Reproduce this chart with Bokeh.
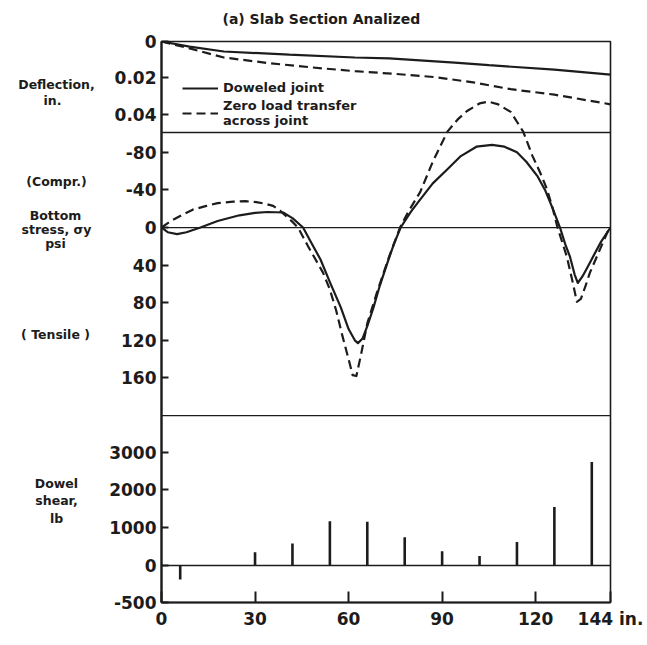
from bokeh.plotting import figure
from bokeh.layouts import row
from bokeh.models import (Range1d, FixedTicker, CustomJSTickFormatter, Span, Title,
                          Legend, LegendItem)
from bokeh.core.properties import value
from bokeh.embed import file_html
from bokeh.resources import INLINE

# ---------------- data ----------------
# Deflection, in. (positive downward)
defl_x_doweled = [0, 9, 20, 41, 62, 73, 94, 105, 126, 144]
defl_doweled = [0, 0.0028, 0.0055, 0.0072, 0.0088, 0.0093, 0.0116, 0.0130, 0.0155, 0.0182]
defl_x_zero = [0, 9, 20, 34, 48, 62, 75, 88, 100, 112, 126, 144]
defl_zero = [0, 0.0038, 0.0088, 0.0118, 0.0142, 0.0163, 0.0178, 0.0196, 0.0225, 0.0262, 0.0292, 0.0345]

# Bottom stress, psi (negative = compression)
stress_x_doweled = [0, 2, 5, 8, 12.5, 18, 25, 30, 34, 39, 42, 45.4, 48, 51, 54, 57.5, 60, 62, 63,
                    64.5, 66, 68, 70, 72.5, 74.5, 76.7, 80, 83, 87, 91.7, 96, 101, 106, 110, 114,
                    117, 120.5, 123, 125.6, 127.8, 129.5, 131, 132.5, 133.5, 135, 136.5, 138.4, 141, 144]
stress_doweled = [0, 5, 7, 5, 0, -7, -13, -15.5, -16.5, -16, -10, 0, 16, 34, 58, 85, 108, 120, 123,
                  118, 105, 85, 62, 37, 18, 0, -17, -30, -47, -62, -76, -86, -88, -86, -80,
                  -70, -55, -40, -19, 0, 18, 31, 50, 59, 52, 43, 31, 15, 0]
stress_x_zero = [0, 3, 7, 10, 14.4, 18, 23, 27, 30.4, 33, 35.8, 38, 40, 42, 43.8, 47, 51.8, 54, 56,
                 58, 60, 61.3, 62.5, 64, 66, 69, 73, 76.5, 79, 83, 87, 91.7, 95, 98, 102, 104.8,
                 108, 112, 116, 119, 121.5, 123.6, 125.5, 127, 130, 132, 133.2, 134.5, 136, 137.4,
                 140, 143, 144]
stress_zero = [0, -7, -14, -19, -23, -26, -27.5, -28, -27, -25.5, -23, -18, -12, -6, 0, 20, 48, 66, 88,
               115, 140, 157, 158, 135, 102, 70, 31, 0, -16, -38, -70, -102, -115, -124, -132, -134,
               -131, -123, -102, -76, -58, -41, -20, 0, 31, 60, 79, 76, 62, 48,
               28, 5, 0]

# Dowel shear, lb
dowel_x = [6, 30, 42, 54, 66, 78, 90, 102, 114, 126, 138]
dowel_shear = [-370, 350, 580, 1170, 1160, 750, 380, 250, 620, 1550, 2740]

# tick labels
x_ticks = [0, 30, 60, 90, 120, 144]
x_tick_labels = {144: "144 in."}
defl_ticks = [0, 0.02, 0.04]
defl_tick_labels = ["0", "0.02", "0.04"]
stress_ticks = [-80, -40, 0, 40, 80, 120, 160]
stress_tick_labels = ["-80", "-40", "0", "40", "80", "120", "160"]
shear_ticks = [0, 1000, 2000, 3000]
shear_tick_labels = ["0", "1000", "2000", "3000"]
shear_bottom_label = "-500"

# texts
title_text = "(a) Slab Section Analized"
side_texts = ["Deflection,", "in.", "(Compr.)", "Bottom", "stress, σy", "psi",
              "( Tensile )", "Dowel", "shear,", "lb"]

# panel limits
DEFL_PANEL_BOTTOM = 0.05
STRESS_PANEL_BOTTOM = 200

# ---------------- layout ----------------
W, H = 647, 645
SIDE_W = 104                                  # width of the side-caption strip
FL, FR, FT, FB = 161, 610, 41, 602            # frame edges in page px
X_MAX = 144
S_TOP, S_BOT = -197.9, 398.9                  # stress axis range (main)
D_TOP, D_BOT = 0.0, 0.3082                    # deflection range
H_TOP, H_BOT = 13880.0, -980.0                # shear range

# side caption positions (page px, centre of each line)
side_cx = [56, 52, 56, 55, 56, 55, 55, 56, 56, 56]
side_cy = [84, 100, 181, 215, 229, 243, 334, 483, 500, 518]

INK = "#1c1c1c"
FONT = "DejaVu Sans"

# ---- side caption strip (its frame is aligned with the main frame: page rows FT..FB) ----
s = figure(width=SIDE_W, height=H, x_range=Range1d(0, SIDE_W), y_range=Range1d(FB, FT),
           output_backend="svg", toolbar_location=None, x_axis_location=None,
           y_axis_location=None, min_border=0)
s.outline_line_color = None
s.xgrid.visible = False
s.ygrid.visible = False
s.text(x=side_cx, y=side_cy, text=side_texts, text_align="center", text_baseline="middle",
       text_font=value(FONT), text_font_style="bold", text_font_size=value("12.5px"),
       text_color=INK)

# ---- main plot ----
p = figure(width=W - SIDE_W, height=H, x_range=Range1d(0, X_MAX), y_range=Range1d(S_BOT, S_TOP),
           output_backend="svg", toolbar_location=None,
           min_border_left=FL - SIDE_W, min_border_right=W - FR, min_border_top=FT,
           min_border_bottom=H - FB)
p.extra_y_ranges = {"defl": Range1d(D_BOT, D_TOP), "shear": Range1d(H_BOT, H_TOP)}
p.xgrid.visible = False
p.ygrid.visible = False
p.outline_line_color = INK
p.outline_line_width = 1.6
p.background_fill_color = "white"
p.border_fill_color = "white"

# title sits in the top border; an empty spacer title lifts it away from the frame
p.title = None
p.add_layout(Title(text=" ", text_font_size="2px", standoff=11), "above")
p.add_layout(Title(text=title_text, align="left", offset=61, standoff=0, vertical_align="bottom",
                   text_font=FONT, text_font_style="bold", text_font_size="14px",
                   text_color=INK), "above")


def to_main(v, bot, top):
    frac = (v - bot) / (top - bot)
    return S_BOT + frac * (S_TOP - S_BOT)


eps = 0.05
pos, labs = [], []
for v, l in zip(defl_ticks, defl_tick_labels):
    t = to_main(v, D_BOT, D_TOP)
    pos.append(t + eps if v == D_TOP else t)
    labs.append(l)
for v, l in zip(stress_ticks, stress_tick_labels):
    pos.append(float(v))
    labs.append(l)
for v, l in zip(shear_ticks, shear_tick_labels):
    pos.append(to_main(v, H_BOT, H_TOP))
    labs.append(l)
pos.append(S_BOT - eps)
labs.append(shear_bottom_label)

yax = p.yaxis[0]
yax.ticker = FixedTicker(ticks=pos)
yax.formatter = CustomJSTickFormatter(args=dict(pos=pos, labs=labs), code="""
let best = 0, bd = Infinity;
for (let i = 0; i < pos.length; i++) {
  const d = Math.abs(pos[i] - tick);
  if (d < bd) { bd = d; best = i; }
}
return labs[best];
""")
xax = p.xaxis[0]
xax.ticker = FixedTicker(ticks=x_ticks)
xax.major_label_overrides = x_tick_labels

for ax, tin in ((yax, 7), (xax, 11)):
    ax.major_tick_in = tin
    ax.major_tick_out = 0
    ax.minor_tick_line_color = None
    ax.major_tick_line_width = 2
    ax.major_tick_line_color = INK
    ax.axis_line_width = 2.2
    ax.axis_line_color = INK
    ax.major_label_text_font = FONT
    ax.major_label_text_font_style = "bold"
    ax.major_label_text_font_size = "17px"
    ax.major_label_text_color = INK
yax.major_label_standoff = 5
xax.major_label_standoff = 6

# separators / baselines
for loc, rn, lw in ((DEFL_PANEL_BOTTOM, "defl", 1.3), (0, "default", 1.3),
                    (STRESS_PANEL_BOTTOM, "default", 1.3), (0, "shear", 1.6)):
    p.add_layout(Span(location=loc, dimension="width", y_range_name=rn,
                      line_color=INK, line_width=lw))

r1 = p.line(defl_x_doweled, defl_doweled, y_range_name="defl", line_color=INK, line_width=2.2)
r2 = p.line(defl_x_zero, defl_zero, y_range_name="defl", line_color=INK, line_width=2.2,
            line_dash="9 5")
p.line(stress_x_doweled, stress_doweled, line_color=INK, line_width=2.2, line_join="round")
p.line(stress_x_zero, stress_zero, line_color=INK, line_width=2.2, line_dash="9 5",
       line_join="round")
p.segment(x0=dowel_x, y0=[0] * len(dowel_x), x1=dowel_x, y1=dowel_shear, y_range_name="shear",
          line_color=INK, line_width=2.6)

legend = Legend(items=[LegendItem(label="Doweled joint", renderers=[r1]),
                       LegendItem(label="Zero load transfer\nacross joint", renderers=[r2])],
                location=(21, FB - 128), padding=0, margin=0, spacing=3,
                border_line_color=None, background_fill_alpha=0,
                glyph_width=36, glyph_height=14, label_standoff=5, label_height=14,
                label_text_font=FONT, label_text_font_style="bold",
                label_text_font_size="13px", label_text_color=INK,
                label_text_line_height=1.0)
p.add_layout(legend)

layout = row(s, p, spacing=0)
open("out.html", "w").write(file_html(layout, INLINE))
